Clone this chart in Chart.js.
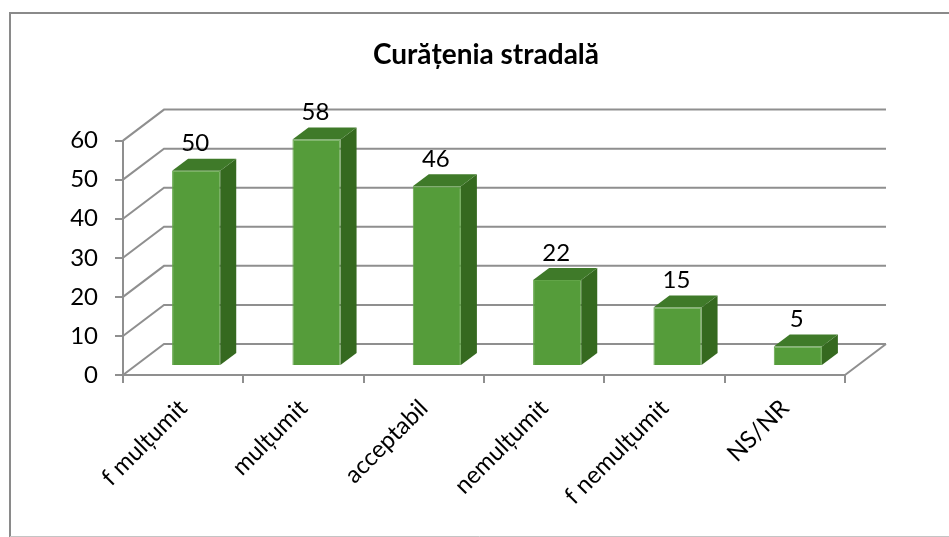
<!DOCTYPE html>
<html>
<head>
<meta charset="utf-8">
<script src="https://cdn.jsdelivr.net/npm/chart.js@4"></script>
<style>
html, body { margin: 0; padding: 0; background: #fff; overflow: hidden; }
canvas { display: block; }
</style>
</head>
<body>
<canvas id="chart" width="949" height="537"></canvas>
<script>
var categories = ["f mulțumit", "mulțumit", "acceptabil", "nemulțumit", "f nemulțumit", "NS/NR"];
var values = [50, 58, 46, 22, 15, 5];
var chartTitle = "Curățenia stradală";

var fontName = "Lato, 'Noto Sans', sans-serif";
var gridColor = "#8f8f8f";

// depth of the fake 3d box: back wall and bar depth
var wallX = 41, wallY = -31;
var barShiftX = 13, barShiftY = -9;
var barDepthX = 16, barDepthY = -12;

var framePlugin = {
	id: "frame",
	afterLayout: function(chart){
		// title is centred on the whole frame, not on the plot
		chart.titleBlock.left = 23;
		chart.titleBlock.right = 949;
	},
	beforeDraw: function(chart){
		var c = chart.ctx;
		c.save();
		c.fillStyle = "#fff";
		c.fillRect(0, 0, chart.width, chart.height);
		c.strokeStyle = "#8a8a8a";
		c.lineWidth = 2;
		c.beginPath();
		c.moveTo(10, 537);
		c.lineTo(10, 13);
		c.lineTo(949, 13);
		c.stroke();
		c.strokeStyle = "#c4c4c4";
		c.lineWidth = 1;
		c.beginPath();
		c.moveTo(10, 536.5);
		c.lineTo(949, 536.5);
		c.stroke();
		c.restore();
	}
};

var wallPlugin = {
	id: "wall",
	beforeDatasetsDraw: function(chart){
		var c = chart.ctx;
		var y = chart.scales.y, a = chart.chartArea;
		c.save();
		c.strokeStyle = gridColor;
		c.lineWidth = 2;
		y.ticks.forEach(function(t){
			var py = y.getPixelForValue(t.value);
			c.beginPath();
			c.moveTo(a.left, py);
			c.lineTo(a.left + wallX, py + wallY);
			c.lineTo(a.right + wallX, py + wallY);
			if(t.value == 0){
				c.moveTo(a.right + wallX, py + wallY);
				c.lineTo(a.right, py);
			}
			c.stroke();
		});
		c.restore();
		// bars are drawn shifted towards the back wall
		c.save();
		c.translate(barShiftX, barShiftY);
	},
	afterDatasetsDraw: function(chart){
		var c = chart.ctx;
		c.restore();
		c.save();
		var bars = chart.getDatasetMeta(0).data;
		bars.forEach(function(b, i){
			var left = b.x - b.width / 2 + barShiftX;
			var right = b.x + b.width / 2 + barShiftX;
			var top = b.y + barShiftY;
			var bottom = b.base + barShiftY;

			c.fillStyle = "#35691f";
			c.beginPath();
			c.moveTo(right, top);
			c.lineTo(right + barDepthX, top + barDepthY);
			c.lineTo(right + barDepthX, bottom + barDepthY);
			c.lineTo(right, bottom);
			c.closePath();
			c.fill();

			c.fillStyle = "#3f7a29";
			c.beginPath();
			c.moveTo(left, top);
			c.lineTo(left + barDepthX, top + barDepthY);
			c.lineTo(right + barDepthX, top + barDepthY);
			c.lineTo(right, top);
			c.closePath();
			c.fill();

			c.fillStyle = "#000";
			c.font = "24px " + fontName;
			c.textAlign = "center";
			c.textBaseline = "middle";
			c.fillText(String(values[i]), b.x + barShiftX - 1, top - 27);
		});
		c.restore();
	}
};

var mychart = new Chart(document.getElementById("chart"), {
	type: "bar",
	data: {
		labels: categories,
		datasets: [{
			data: values,
			backgroundColor: "#559c3a",
			borderColor: "#62a548",
			borderWidth: 1,
			barPercentage: 0.4,
			categoryPercentage: 1,
			clip: false
		}]
	},
	options: {
		responsive: false,
		animation: false,
		layout: { padding: { left: 23, right: 104, top: 0, bottom: 0 } },
		plugins: {
			legend: { display: false },
			tooltip: { enabled: false },
			title: {
				display: true,
				text: chartTitle,
				color: "#000",
				font: { family: fontName, size: 28, weight: "bold" },
				padding: { top: 38, bottom: 69 }
			}
		},
		scales: {
			x: {
				grid: { drawOnChartArea: false, color: gridColor, lineWidth: 2, tickLength: 8 },
				border: { color: gridColor, width: 2 },
				ticks: {
					color: "#000",
					font: { family: fontName, size: 24 },
					autoSkip: false,
					minRotation: 45,
					maxRotation: 45,
					padding: 11
				},
				afterFit: function(scale){ scale.height = 162; }
			},
			y: {
				min: 0,
				max: 60,
				grid: { drawOnChartArea: false, color: gridColor, lineWidth: 2, tickLength: 8 },
				border: { color: gridColor, width: 2 },
				ticks: {
					stepSize: 10,
					color: "#000",
					font: { family: fontName, size: 24 },
					padding: 17
				},
				afterFit: function(scale){ scale.width = 100; }
			}
		}
	},
	plugins: [framePlugin, wallPlugin]
});
</script>
</body>
</html>
